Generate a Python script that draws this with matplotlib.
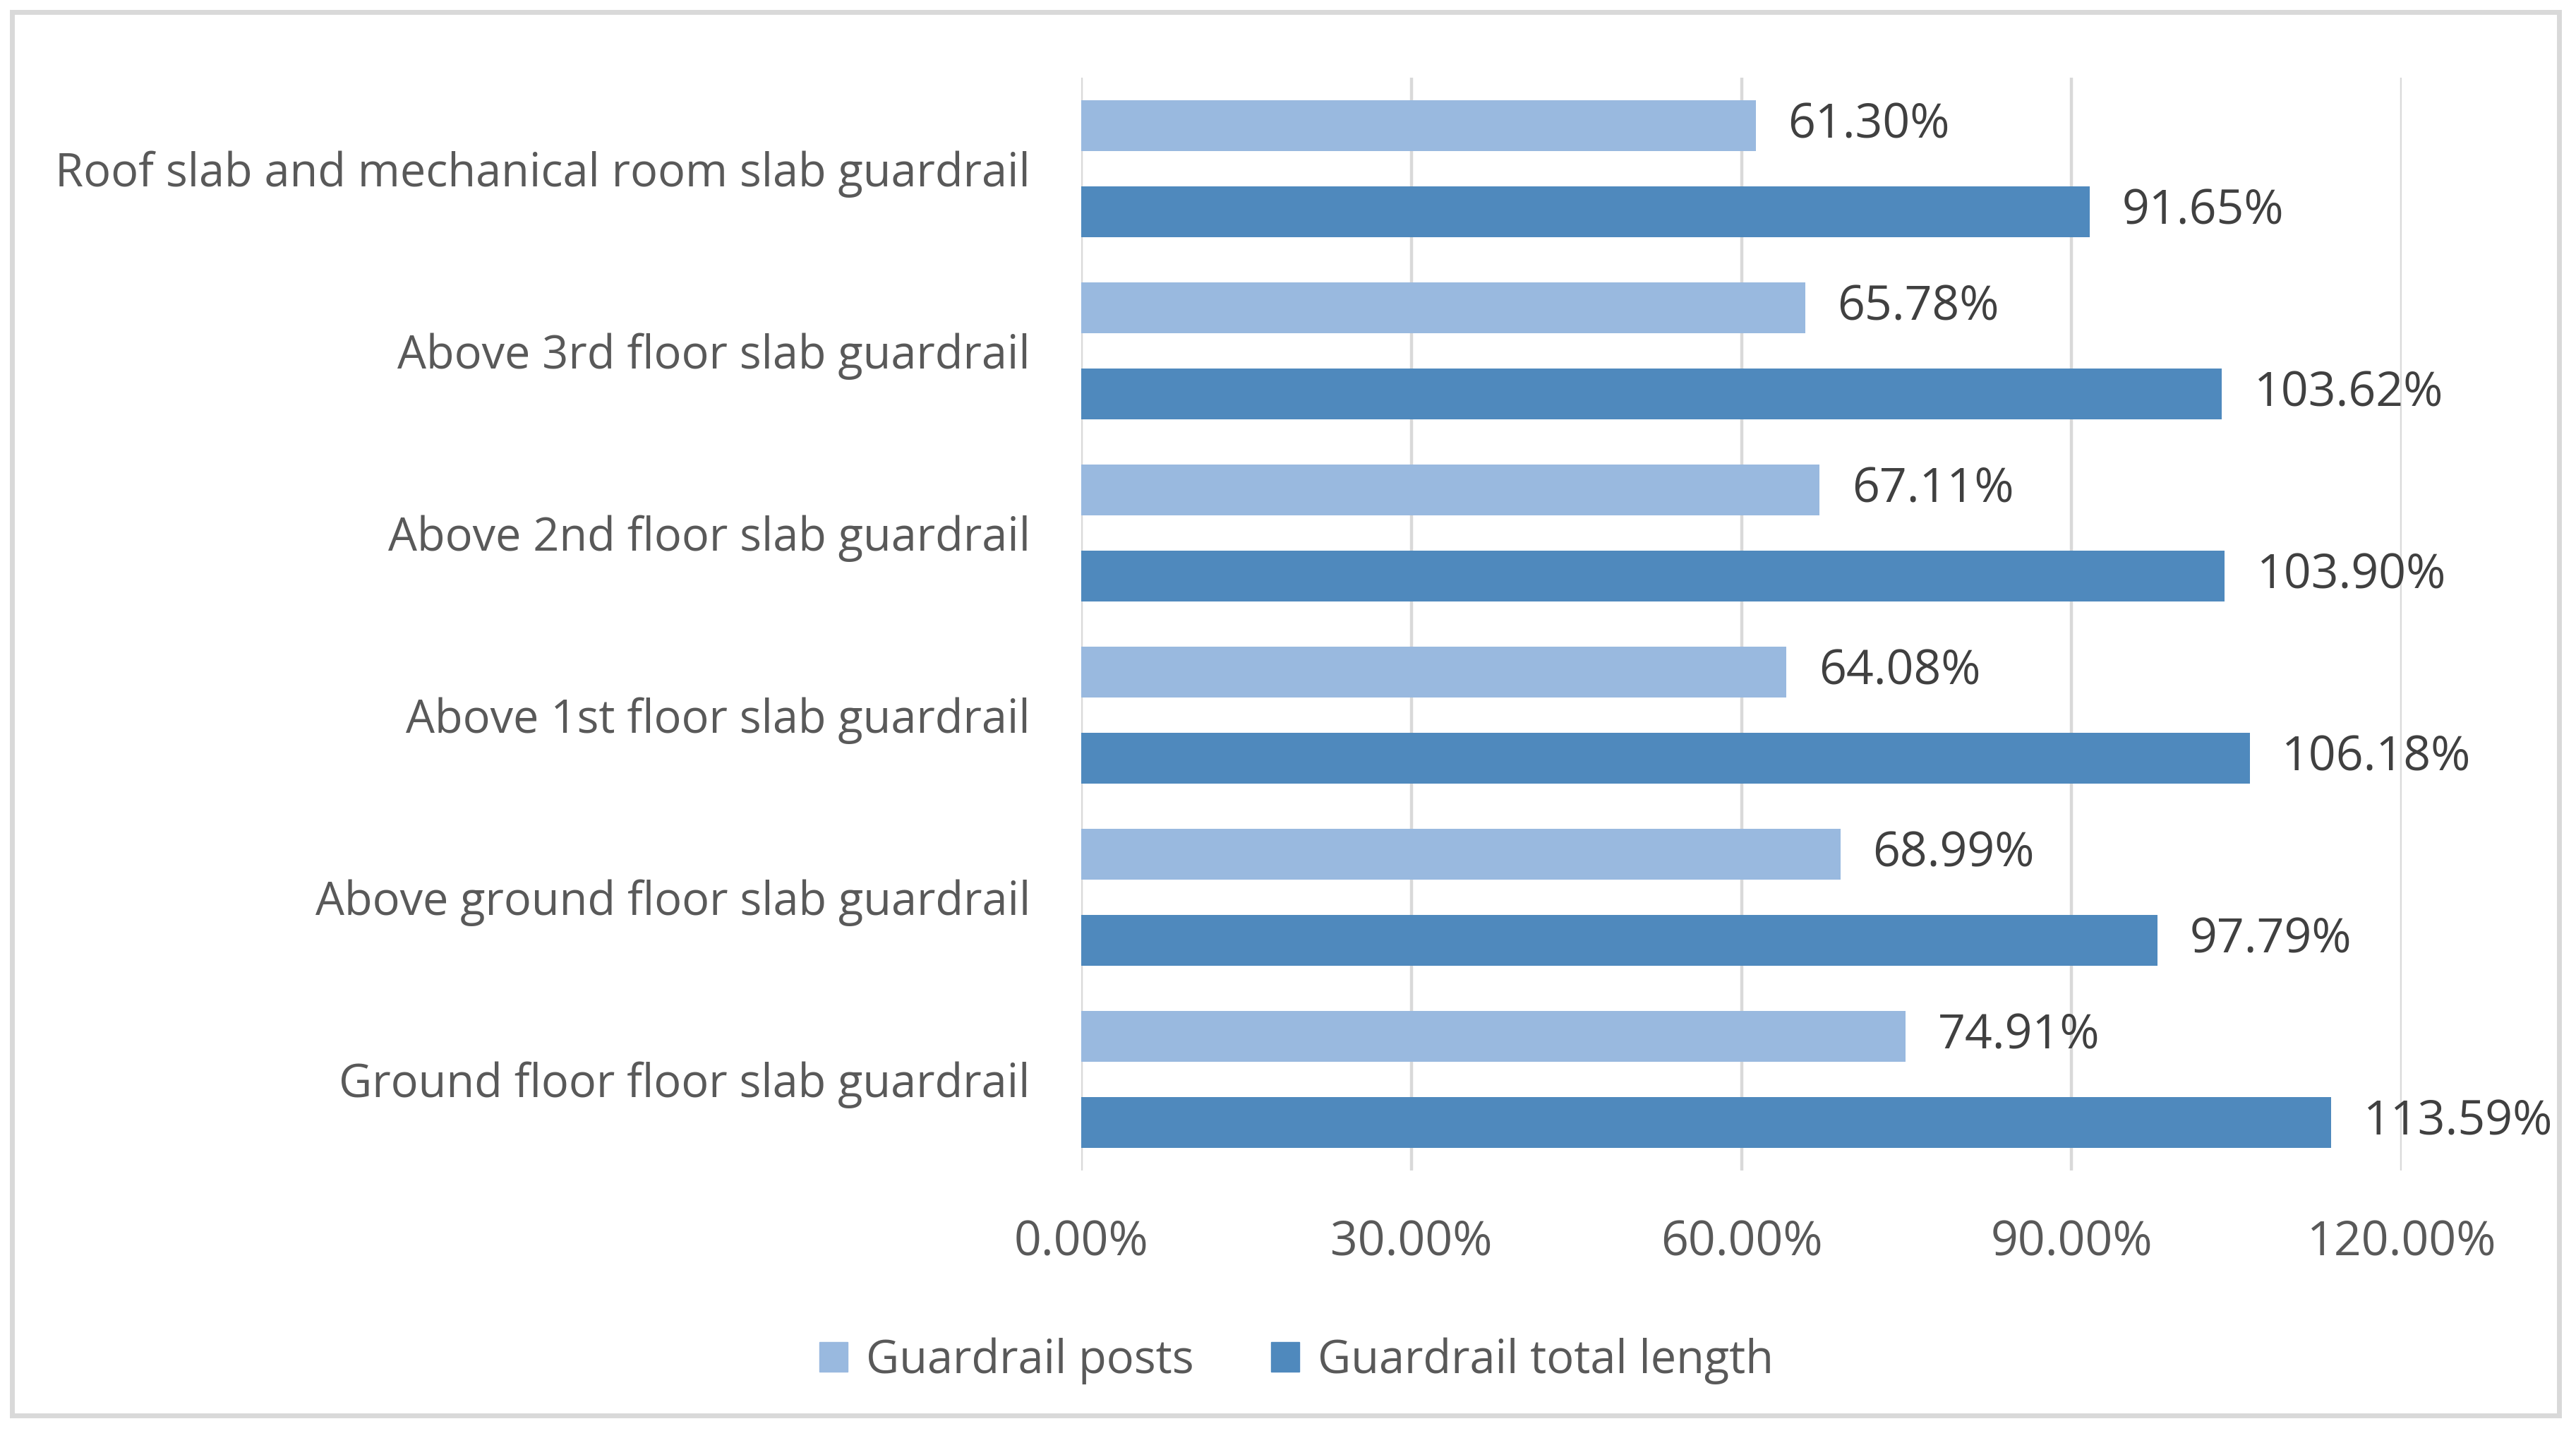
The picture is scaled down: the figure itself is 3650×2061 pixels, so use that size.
import matplotlib
matplotlib.use("Agg")
import matplotlib.pyplot as plt
from matplotlib.patches import Rectangle, Patch
import numpy as np

categories = [
    "Roof slab and mechanical room slab guardrail",
    "Above 3rd floor slab guardrail",
    "Above 2nd floor slab guardrail",
    "Above 1st floor slab guardrail",
    "Above ground floor slab guardrail",
    "Ground floor floor slab guardrail",
]
posts = [61.30, 65.78, 67.11, 64.08, 68.99, 74.91]
total_length = [91.65, 103.62, 103.90, 106.18, 97.79, 113.59]
series_names = ["Guardrail posts", "Guardrail total length"]
xticks = [0, 30, 60, 90, 120]

c_light = "#99B9DF"
c_dark = "#4F89BD"
txt = "#595959"
lbl = "#404040"
grid = "#D9D9D9"

W, H = 3650, 2061
plt.rcParams['font.family'] = ['Open Sans', 'DejaVu Sans']
FS = 46.7
FSN = 49

fig = plt.figure(figsize=(W / 100, H / 100), dpi=100)
fig.patch.set_facecolor("white")

# outer border
fig.add_artist(Rectangle((17 / W, 1 - 2005 / H), (3626 - 17) / W, (2005 - 17) / H,
                         transform=fig.transFigure, fill=False, edgecolor=grid,
                         linewidth=5))

ax = fig.add_axes([1532 / W, 1 - 1658 / H, (3403 - 1532) / W, (1658 - 110) / H])
y = np.arange(len(categories))
bh = 0.279
off = 0.236
ax.barh(y - off, posts, height=bh, color=c_light, zorder=3, label=series_names[0])
ax.barh(y + off, total_length, height=bh, color=c_dark, zorder=3, label=series_names[1])

for yi, v in zip(y, posts):
    ax.annotate(f"{v:.2f}%", (v, yi - off), xytext=(33, 0), textcoords="offset points",
                va="center", ha="left", fontsize=FSN, color=lbl)
for yi, v in zip(y, total_length):
    ax.annotate(f"{v:.2f}%", (v, yi + off), xytext=(33, 0), textcoords="offset points",
                va="center", ha="left", fontsize=FSN, color=lbl)

ax.set_xlim(0, 120)
ax.set_ylim(len(categories) - 0.5, -0.5)
ax.set_xticks(xticks)
ax.set_xticklabels([f"{t:.2f}%" for t in xticks], fontsize=FSN, color=txt)
ax.set_yticks(y)
ax.set_yticklabels(categories, fontsize=FS, color=txt)
ax.tick_params(axis="x", length=0, pad=50)
ax.tick_params(axis="y", length=0, pad=52)
for s in ax.spines.values():
    s.set_visible(False)
ax.set_axisbelow(True)
ax.grid(axis="x", color=grid, linewidth=3.2, zorder=0)
ax.grid(axis="y", visible=False)

handles = [Patch(color=c_light), Patch(color=c_dark)]
fig.legend(handles, series_names, loc="center",
           bbox_to_anchor=(0.5 + 12 / W, 1 - 1928 / H),
           ncol=2, frameon=False, fontsize=FS, labelcolor=txt,
           handlelength=0.62, handleheight=0.62, handletextpad=0.4,
           columnspacing=1.69)

fig.savefig("out.png", dpi=100, facecolor="white")
